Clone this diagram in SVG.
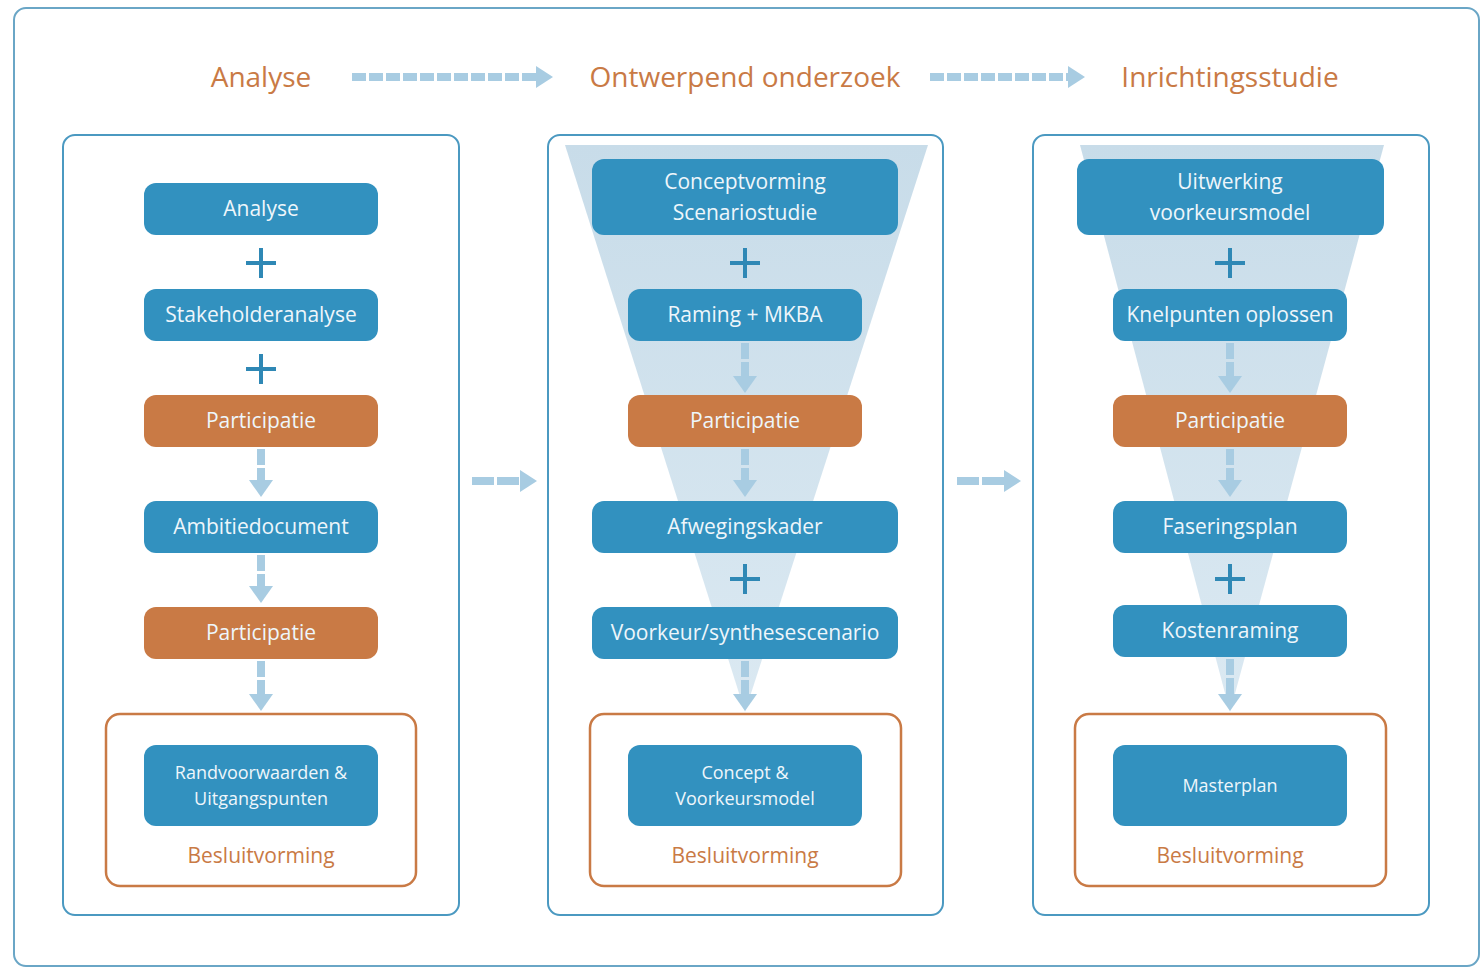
<svg xmlns="http://www.w3.org/2000/svg" width="1483" height="968" viewBox="0 0 1483 968">
<defs>
<linearGradient id="fun" x1="0" y1="0" x2="0" y2="1">
<stop offset="0" stop-color="#c8dce9"/>
<stop offset="1" stop-color="#dbe9f2"/>
</linearGradient>
<style>
.frame{fill:#fff;stroke:#6aa6c6;stroke-width:2}
.panel{fill:#fff;stroke:#4b99c1;stroke-width:2}
.node{fill:#3291bf}
.orange{fill:#c97a45}
.besl{fill:#fff;stroke:#c97a45;stroke-width:2.5}
.t{font-family:"Open Sans","Noto Sans",sans-serif;text-anchor:middle;fill:#eef6fb;font-size:21px}
.ts{font-family:"Open Sans","Noto Sans",sans-serif;text-anchor:middle;fill:#eef6fb;font-size:18px}
.ob{font-family:"Open Sans","Noto Sans",sans-serif;text-anchor:middle;fill:#c97a45;font-size:21px}
.hd{font-family:"Open Sans","Noto Sans",sans-serif;text-anchor:middle;fill:#c97a45;font-size:28px}
.plus{stroke:#2f88b5;stroke-width:4;fill:none}
.shaft{stroke:#a8cce2;stroke-width:8;fill:none;stroke-dasharray:16 3}
.hshaft{stroke:#a8cce2;stroke-width:8;fill:none;stroke-dasharray:14 3}
.head{fill:#a8cce2}
.funnel{fill:url(#fun)}
</style>
</defs>
<rect class="frame" x="14" y="8" width="1465" height="958" rx="12"/>

<g id="headers">
<text class="hd" x="261" y="87">Analyse</text>
<text class="hd" x="745" y="87">Ontwerpend onderzoek</text>
<text class="hd" x="1230" y="87">Inrichtingsstudie</text>
</g>

<g id="panel-analyse">
<rect class="panel" x="63" y="135" width="396" height="780" rx="12"/>
</g>
<g id="panel-ontwerpend">
<rect class="panel" x="548" y="135" width="395" height="780" rx="12"/>
<polygon class="funnel" points="565,145 928,145 745,712"/>
</g>
<g id="panel-inrichting">
<rect class="panel" x="1033" y="135" width="396" height="780" rx="12"/>
<polygon class="funnel" points="1080,145 1384,145 1230,712"/>
</g>

<g id="connectors">
<line class="hshaft" x1="352" y1="77" x2="538" y2="77"/>
<polygon class="head" points="536,66 553,77 536,88"/>
<line class="hshaft" x1="930" y1="77" x2="1070" y2="77"/>
<polygon class="head" points="1068,66 1085,77 1068,88"/>
<line class="shaft" x1="472" y1="481" x2="522" y2="481" style="stroke-dasharray:22 3"/>
<polygon class="head" points="520,470 537,481 520,492"/>
<line class="shaft" x1="957" y1="481" x2="1006" y2="481" style="stroke-dasharray:22 3"/>
<polygon class="head" points="1004,470 1021,481 1004,492"/>
<g class="plus">
<path d="M246,263h30M261,248v30"/>
<path d="M246,369h30M261,354v30"/>
<path d="M730,263h30M745,248v30"/>
<path d="M730,579h30M745,564v30"/>
<path d="M1215,263h30M1230,248v30"/>
<path d="M1215,579h30M1230,564v30"/>
</g>
<g>
<line class="shaft" x1="261" y1="449" x2="261" y2="482"/><polygon class="head" points="249,480 273,480 261,497"/>
<line class="shaft" x1="261" y1="555" x2="261" y2="588"/><polygon class="head" points="249,586 273,586 261,603"/>
<line class="shaft" x1="261" y1="661" x2="261" y2="696"/><polygon class="head" points="249,694 273,694 261,711"/>
<line class="shaft" x1="745" y1="343" x2="745" y2="378"/><polygon class="head" points="733,376 757,376 745,393"/>
<line class="shaft" x1="745" y1="449" x2="745" y2="482"/><polygon class="head" points="733,480 757,480 745,497"/>
<line class="shaft" x1="745" y1="661" x2="745" y2="696"/><polygon class="head" points="733,694 757,694 745,711"/>
<line class="shaft" x1="1230" y1="343" x2="1230" y2="378"/><polygon class="head" points="1218,376 1242,376 1230,393"/>
<line class="shaft" x1="1230" y1="449" x2="1230" y2="482"/><polygon class="head" points="1218,480 1242,480 1230,497"/>
<line class="shaft" x1="1230" y1="659" x2="1230" y2="696"/><polygon class="head" points="1218,694 1242,694 1230,711"/>
</g>
</g>

<g id="n-analyse"><rect class="node" x="144" y="183" width="234" height="52" rx="12"/><text class="t" x="261" y="216">Analyse</text></g>
<g id="n-stakeholder"><rect class="node" x="144" y="289" width="234" height="52" rx="12"/><text class="t" x="261" y="322">Stakeholderanalyse</text></g>
<g id="n-participatie-1"><rect class="orange" x="144" y="395" width="234" height="52" rx="12"/><text class="t" x="261" y="428">Participatie</text></g>
<g id="n-ambitie"><rect class="node" x="144" y="501" width="234" height="52" rx="12"/><text class="t" x="261" y="534">Ambitiedocument</text></g>
<g id="n-participatie-2"><rect class="orange" x="144" y="607" width="234" height="52" rx="12"/><text class="t" x="261" y="640">Participatie</text></g>
<g id="n-besluit-1">
<rect class="besl" x="106" y="714" width="310" height="172" rx="14"/>
<rect class="node" x="144" y="745" width="234" height="81" rx="12"/>
<text class="ts" x="261" y="779">Randvoorwaarden &amp;</text>
<text class="ts" x="261" y="805">Uitgangspunten</text>
<text class="ob" x="261" y="863">Besluitvorming</text>
</g>

<g id="n-concept"><rect class="node" x="592" y="159" width="306" height="76" rx="12"/><text class="t" x="745" y="189">Conceptvorming</text><text class="t" x="745" y="220">Scenariostudie</text></g>
<g id="n-raming"><rect class="node" x="628" y="289" width="234" height="52" rx="12"/><text class="t" x="745" y="322">Raming + MKBA</text></g>
<g id="n-participatie-3"><rect class="orange" x="628" y="395" width="234" height="52" rx="12"/><text class="t" x="745" y="428">Participatie</text></g>
<g id="n-afweging"><rect class="node" x="592" y="501" width="306" height="52" rx="12"/><text class="t" x="745" y="534">Afwegingskader</text></g>
<g id="n-voorkeur"><rect class="node" x="592" y="607" width="306" height="52" rx="12"/><text class="t" x="745" y="640">Voorkeur/synthesescenario</text></g>
<g id="n-besluit-2">
<rect class="besl" x="590" y="714" width="311" height="172" rx="14"/>
<rect class="node" x="628" y="745" width="234" height="81" rx="12"/>
<text class="ts" x="745" y="779">Concept &amp;</text>
<text class="ts" x="745" y="805">Voorkeursmodel</text>
<text class="ob" x="745" y="863">Besluitvorming</text>
</g>

<g id="n-uitwerking"><rect class="node" x="1077" y="159" width="307" height="76" rx="12"/><text class="t" x="1230" y="189">Uitwerking</text><text class="t" x="1230" y="220">voorkeursmodel</text></g>
<g id="n-knelpunten"><rect class="node" x="1113" y="289" width="234" height="52" rx="12"/><text class="t" x="1230" y="322">Knelpunten oplossen</text></g>
<g id="n-participatie-4"><rect class="orange" x="1113" y="395" width="234" height="52" rx="12"/><text class="t" x="1230" y="428">Participatie</text></g>
<g id="n-fasering"><rect class="node" x="1113" y="501" width="234" height="52" rx="12"/><text class="t" x="1230" y="534">Faseringsplan</text></g>
<g id="n-kosten"><rect class="node" x="1113" y="605" width="234" height="52" rx="12"/><text class="t" x="1230" y="638">Kostenraming</text></g>
<g id="n-besluit-3">
<rect class="besl" x="1075" y="714" width="311" height="172" rx="14"/>
<rect class="node" x="1113" y="745" width="234" height="81" rx="12"/>
<text class="ts" x="1230" y="792">Masterplan</text>
<text class="ob" x="1230" y="863">Besluitvorming</text>
</g>
</svg>
